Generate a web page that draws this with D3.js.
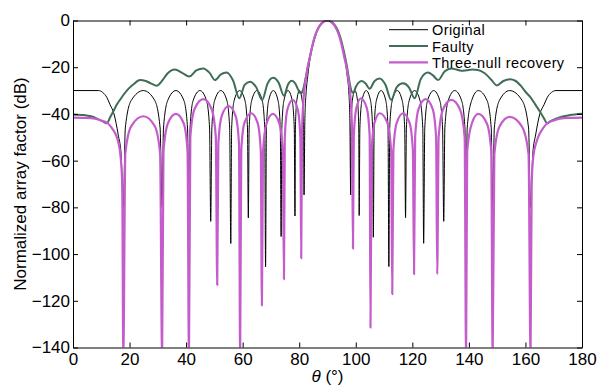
<!DOCTYPE html>
<html>
<head>
<meta charset="utf-8">
<script src="https://cdn.jsdelivr.net/npm/d3@7"></script>
<style>
  body { margin: 0; background: #fff; }
  text { font-family: Arial, "Liberation Sans", sans-serif; }
</style>
</head>
<body>
<div id="chart"></div>
<script>
// tick values
const xTicks = [0, 20, 40, 60, 80, 100, 120, 140, 160, 180];
const yTicks = [-140, -120, -100, -80, -60, -40, -20, 0];

const seriesNames = ['Original', 'Faulty', 'Three-null recovery'];

// [theta in degrees, normalized AF in dB]
const original = [
  [0,-30],[9,-30],[10.5,-30.8],[12,-33],[13.1,-36],[14.5,-40],[16,-49],[17,-57],[17.8,-80],
  [18.5,-46],[20.6,-34.2],[24.9,-30],[28.9,-34.2],[30.8,-46],[31.5,-80],
  [32.0,-46],[33.5,-34.2],[36.4,-30],[39.2,-34.2],[40.5,-46],[41.0,-80],
  [41.4,-46],[42.5,-34.2],[44.9,-30],[47.2,-34.2],[48.3,-46],[48.7,-86],
  [49.1,-46],[50.1,-34.2],[52.3,-30],[54.4,-34.2],[55.4,-46],[55.8,-95.5],
  [56.1,-46],[57.0,-34.2],[58.9,-30],[60.8,-34.2],[61.7,-46],[62.0,-84.5],
  [62.3,-46],[63.2,-34.2],[65.05,-30],[66.9,-34.2],[67.8,-46],[68.1,-105.5],
  [68.4,-46],[69.2,-34.2],[70.85,-30],[72.5,-34.2],[73.3,-46],[73.6,-92.5],
  [73.85,-46],[74.6,-34.2],[76.05,-30],[77.5,-34.2],[78.25,-46],[78.5,-83.7],
  [78.65,-46],[79.15,-34.2],[80.1,-30],[81.05,-34.2],[81.55,-46],[81.7,-74.7],
  [82.0,-42],[82.5,-30],[83.0,-24],[83.8,-16.5],[84.7,-11],[85.6,-6.8],[86.5,-4],[87.5,-2],[88.5,-0.7],[89.3,-0.1],[90,0],
  [90.7,-0.1],[91.5,-0.7],[92.5,-2],[93.5,-4],[94.4,-6.8],[95.3,-11],[96.2,-16.5],[97.0,-24],[97.5,-30],[97.9,-42],[98.2,-74.7],
  [98.35,-46],[98.8,-34.2],[99.7,-30],[100.6,-34.2],[101.05,-46],[101.2,-83.5],
  [101.45,-46],[102.2,-34.2],[103.7,-30],[105.2,-34.2],[105.95,-46],[106.2,-92.8],
  [106.5,-46],[107.3,-34.2],[108.95,-30],[110.6,-34.2],[111.4,-46],[111.7,-105.4],
  [112.0,-46],[112.9,-34.2],[114.65,-30],[116.4,-34.2],[117.3,-46],[117.6,-84.4],
  [117.9,-46],[118.9,-34.2],[120.8,-30],[122.7,-34.2],[123.7,-46],[124.0,-95.4],
  [124.4,-46],[125.4,-34.2],[127.55,-30],[129.7,-34.2],[130.7,-46],[131.1,-86],
  [131.5,-46],[132.7,-34.2],[135.0,-30],[137.4,-34.2],[138.6,-46],[139.0,-80],
  [139.4,-46],[141.0,-34.2],[143.3,-30],[146.4,-34.2],[147.9,-46],[148.4,-80],
  [149.0,-46],[150.8,-34.2],[154.4,-30],[158.8,-34.2],[161.1,-46],[161.8,-80],
  [162.6,-57],[163.6,-49],[165.1,-40],[166.6,-36],[167.7,-33],[169.2,-30.8],[170.8,-30],[180,-30]
];

const faulty = [
  [0,-40.2],[4,-40.5],[7,-41.2],[9,-42.3],[10.7,-43.3],[12.0,-44],[13.1,-41.5],[14.3,-38.8],[15.4,-36.2],
  [16.6,-34],[17.8,-31.9],[19.5,-29.4],[21.3,-27.4],[23.7,-25.5],[25.7,-25.9],[27.7,-27],[29.6,-27.9],
  [31.5,-25.8],[33.5,-22.6],[36,-21],[38.6,-22.4],[41.1,-24],[43.6,-21.4],[46.1,-20.5],[48.3,-22.4],
  [50.2,-25.5],[52.3,-23.1],[54.3,-22.3],[56.6,-25.7],[58.8,-33.3],[60.7,-27.6],[62.6,-26.2],[64.8,-28.6],
  [66.9,-34],[68.8,-27],[70.8,-24.5],[72.7,-26.6],[74.6,-32.2],[76,-27.5],[77.3,-25.8],[78.6,-27],
  [79.7,-29.8],[80.6,-31.2],[81.4,-29.5],[82.2,-25],[83,-20],[83.8,-15.5],[84.7,-10.7],[85.6,-6.7],
  [86.5,-3.9],[87.5,-1.9],[88.5,-0.6],[89.4,-0.05],[90,0],[90.6,-0.05],[91.5,-0.6],[92.5,-1.9],[93.5,-3.9],
  [94.4,-6.7],[95.3,-10.7],[96.2,-15.5],[97,-20.5],[97.8,-26.5],[98.5,-30.2],[99.1,-31],[100,-28.5],
  [101,-26.6],[102.2,-25.9],[103.5,-27],[104.9,-29.2],[106.6,-26],[108.4,-24.8],[110.5,-27.5],[112.5,-34],
  [114.5,-28.5],[116.7,-26.9],[118.8,-28.6],[120.8,-33.3],[123,-25],[125.5,-22.3],[127.3,-23.5],[129.1,-25.5],
  [131.5,-21.7],[133.8,-20.5],[135.6,-21],[137.3,-21.5],[139.2,-21.3],[141.2,-21],[143.2,-21.2],[145.6,-22.6],
  [148,-25.5],[149.9,-27.8],[152.2,-25.9],[154.5,-25.2],[156.4,-25.8],[158.4,-28],[160,-30.5],[161.6,-32.6],
  [163.4,-35.8],[165.1,-39],[166.5,-41.8],[167.7,-44],[169,-43],[171,-41.9],[175.7,-40.5],[180,-39.9]
];

const recovery = [
  [0,-41.6],[4,-41.7],[7.8,-42],[10,-42.8],[12.3,-44],[13.7,-46],[14.9,-48.3],[16,-52],[16.8,-58],[17.4,-70],[17.8,-145],
  [18.5,-57],[20.6,-45.2],[24.9,-41],[28.9,-45.2],[30.8,-57],[31.5,-145],
  [32.0,-56],[33.5,-44.2],[36.4,-40],[39.2,-44.2],[40.5,-56],[41.0,-145],
  [41.5,-49.7],[43.0,-37.9],[46.1,-33.7],[49.0,-37.9],[50.5,-49.7],[51.0,-113.2],
  [51.4,-52.6],[52.6,-40.8],[55.0,-36.6],[57.5,-40.8],[58.7,-52.6],[59.1,-145],
  [59.5,-55.7],[60.6,-43.9],[62.95,-39.7],[65.3,-43.9],[66.4,-55.7],[66.8,-122],
  [67.2,-56],[68.4,-44.2],[70.7,-40],[73.0,-44.2],[74.2,-56],[74.6,-110.8],
  [74.9,-50],[75.8,-38.2],[77.7,-34],[79.5,-38.2],[80.4,-50],[80.7,-101.8],
  [81.0,-48],[81.5,-34],[82.2,-26],[83.0,-20],[83.8,-15.5],[84.7,-10.5],[85.6,-6.5],[86.5,-3.8],[87.5,-1.8],
  [88.5,-0.6],[89.5,-0.05],[89.85,0],[90.2,-0.05],[91.2,-0.6],[92.2,-1.8],[93.2,-3.8],[94.1,-6.5],[95.0,-10.5],
  [95.9,-15.5],[96.7,-20],[97.5,-26],[98.2,-34],[98.7,-48],[99.0,-97.7],
  [99.3,-49.3],[100.2,-37.5],[101.8,-33.3],[103.9,-37.5],[104.9,-49.3],[105.2,-131.5],
  [105.6,-55.7],[106.6,-43.9],[108.5,-39.7],[111.2,-43.9],[112.5,-55.7],[112.9,-117.2],
  [113.3,-55.7],[114.45,-43.9],[116.75,-39.7],[119.05,-43.9],[120.2,-55.7],[120.6,-108.6],
  [121.0,-49.7],[122.2,-37.9],[124.7,-33.7],[127.2,-37.9],[128.4,-49.7],[128.8,-108.6],
  [129.3,-50],[130.8,-38.2],[133.8,-34],[136.9,-38.2],[138.5,-50],[139.0,-145],
  [139.4,-56],[141.0,-44.2],[143.3,-40],[146.4,-44.2],[147.9,-56],[148.4,-145],
  [149.0,-57.3],[150.8,-45.5],[154.4,-41.3],[158.8,-45.5],[161.1,-57.3],[161.8,-145],
  [162.2,-70],[162.8,-58],[163.9,-52],[165.1,-48.3],[166.3,-46],[167.7,-44],[170,-42.8],[172.2,-42],[176,-41.7],[180,-41.6]
];

const outerWidth = 598, outerHeight = 387;
const margin = {left: 73, top: 20.5, right: 16, bottom: 39.5};
const width = outerWidth - margin.left - margin.right;
const height = outerHeight - margin.top - margin.bottom;

const svg = d3.select('#chart').append('svg')
    .attr('width', outerWidth)
    .attr('height', outerHeight);

const g = svg.append('g')
    .attr('transform', `translate(${margin.left}, ${margin.top})`);

const x = d3.scaleLinear().domain([0, 180]).range([0, width]);
const y = d3.scaleLinear().domain([-140, 0]).range([height, 0]);

g.append('clipPath').attr('id', 'plotClip')
    .append('rect').attr('width', width).attr('height', height);

const line = d3.line()
    .x(d => x(d[0]))
    .y(d => y(d[1]))
    .curve(d3.curveMonotoneX);

const styles = [
    {data: original, color: '#000000', w: 1},
    {data: faulty, color: '#3f6e56', w: 2},
    {data: recovery, color: '#c45ccc', w: 2.2}
];

const plot = g.append('g').attr('clip-path', 'url(#plotClip)');
styles.forEach(s => {
    plot.append('path')
        .datum(s.data)
        .attr('fill', 'none')
        .attr('stroke', s.color)
        .attr('stroke-width', s.w)
        .attr('stroke-linejoin', 'round')
        .attr('d', line);
});

// axes, ticks pointing inward on all four sides
function styleAxis(sel) {
    sel.selectAll('path').attr('stroke', '#000').attr('stroke-width', 1);
    sel.selectAll('line').attr('stroke', '#000').attr('stroke-width', 1);
    sel.selectAll('text').style('font-size', '17px').attr('fill', '#000');
}

g.append('g')
    .attr('transform', `translate(0, ${height})`)
    .call(d3.axisBottom(x).tickValues(xTicks).tickSizeInner(-5).tickSizeOuter(0).tickPadding(5))
    .call(styleAxis);

g.append('g')
    .call(d3.axisTop(x).tickValues(xTicks).tickSizeInner(-5).tickSizeOuter(0).tickFormat(''))
    .call(styleAxis);

g.append('g')
    .call(d3.axisLeft(y).tickValues(yTicks).tickSizeInner(-5).tickSizeOuter(0).tickPadding(3))
    .call(styleAxis);

g.append('g')
    .attr('transform', `translate(${width}, 0)`)
    .call(d3.axisRight(y).tickValues(yTicks).tickSizeInner(-5).tickSizeOuter(0).tickFormat(''))
    .call(styleAxis);

// axis titles
svg.append('text')
    .attr('transform', `translate(26, ${margin.top + height / 2}) rotate(-90)`)
    .attr('text-anchor', 'middle')
    .style('font-size', '17px')
    .text('Normalized array factor (dB)');

const xLabel = svg.append('text')
    .attr('x', margin.left + width / 2)
    .attr('y', 382)
    .attr('text-anchor', 'middle')
    .style('font-size', '17px');
xLabel.append('tspan').style('font-style', 'italic').text('θ');
xLabel.append('tspan').text(' (°)');

// legend
const legend = g.append('g').attr('transform', 'translate(316, 9.2)');
styles.forEach((s, i) => {
    const row = legend.append('g').attr('transform', `translate(0, ${i * 16.3})`);
    row.append('line')
        .attr('x1', 0).attr('x2', 39)
        .attr('stroke', s.color)
        .attr('stroke-width', s.w);
    row.append('text')
        .attr('x', 43)
        .attr('y', 5.5)
        .style('font-size', '14.5px')
        .style('letter-spacing', '0.4px')
        .text(seriesNames[i]);
});
</script>
</body>
</html>
